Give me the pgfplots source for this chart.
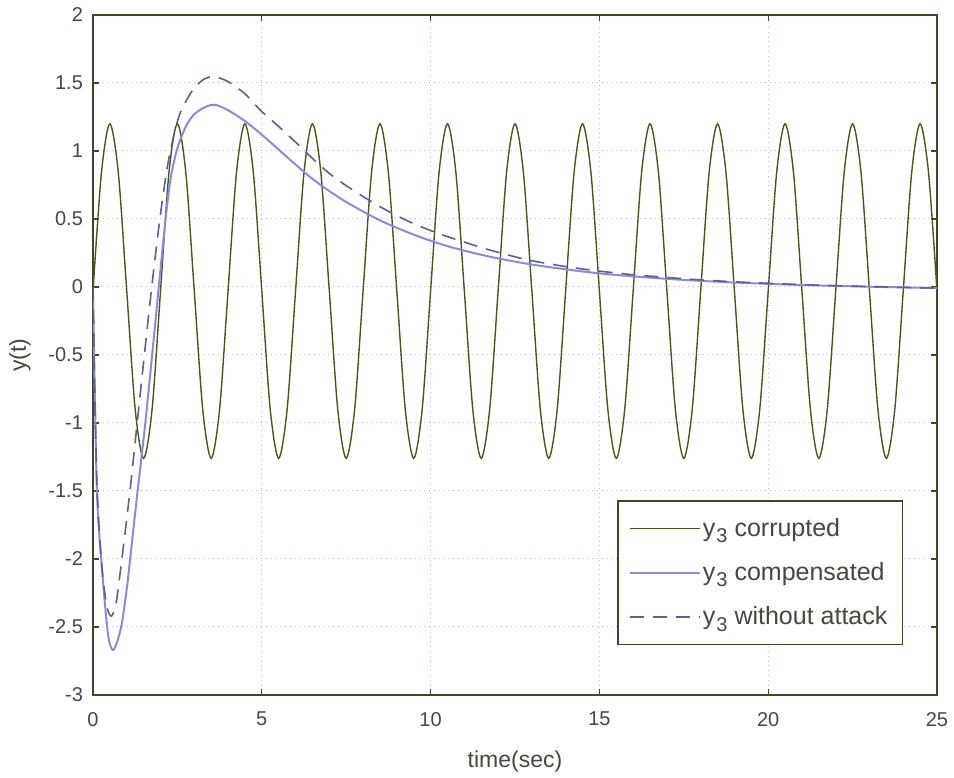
\documentclass[border=0pt]{standalone}
\usepackage{pgfplots}
\pgfplotsset{compat=1.18}
\usepackage{fontspec}
\setmainfont{Liberation Sans}
\definecolor{axcol}{RGB}{62,72,40}
\definecolor{gridcol}{RGB}{185,188,232}
\definecolor{corr}{RGB}{72,88,28}
\definecolor{comp}{RGB}{140,140,212}
\definecolor{noatt}{RGB}{95,95,145}
\definecolor{txt}{RGB}{70,72,60}
\newcommand{\ysub}{y\kern0.5pt\raisebox{-0.5ex}{\fontsize{10}{10}\selectfont 3}}
\begin{document}
\begin{tikzpicture}
\begin{axis}[
  scale only axis,
  width=422pt, height=340pt,
  xmin=0, xmax=25, ymin=-3, ymax=2,
  xtick={0,5,10,15,20,25},
  ytick={-3,-2.5,-2,-1.5,-1,-0.5,0,0.5,1,1.5,2},
  /pgf/number format/assume math mode=true,
  tick label style={font=\fontsize{10}{12}\selectfont, text=txt},
  yticklabel style={xshift=-1.5pt},
  xticklabel style={yshift=-5pt},
  tick align=inside,
  major tick length=3pt,
  tick style={axcol, line width=0.6pt},
  axis line style={axcol, line width=0.7pt},
  grid=major,
  major grid style={gridcol, dotted, line width=0.5pt},
  xlabel={time(sec)},
  ylabel={y(t)},
  label style={font=\fontsize{11.5}{13}\selectfont, text=txt},
  xlabel style={yshift=-5.5pt},
  ylabel style={yshift=2pt},
  legend cell align=left,
  legend style={at={(0.9597,0.0735)}, anchor=south east, draw=axcol, line width=0.6pt,
    font=\fontsize{12.5}{15}\selectfont, text=txt, inner xsep=5.5pt, inner ysep=6.5pt,
    row sep=7.5pt, /tikz/every odd column/.append style={column sep=-1pt}},
  legend image code/.code={\draw[#1] (0pt,0pt) -- (35pt,0pt);},
]
\coordinate (bl) at (rel axis cs:0,0);
\coordinate (tr) at (rel axis cs:1,1);
\addplot[corr, line width=0.7pt, smooth] coordinates {
(0,-0.03)(0.25,0.84)(0.5,1.20)(0.75,0.84)(1,-0.03)(1.25,-0.90)(1.5,-1.26)(1.75,-0.90)
(2,-0.03)(2.25,0.84)(2.5,1.20)(2.75,0.84)(3,-0.03)(3.25,-0.90)(3.5,-1.26)(3.75,-0.90)
(4,-0.03)(4.25,0.84)(4.5,1.20)(4.75,0.84)(5,-0.03)(5.25,-0.90)(5.5,-1.26)(5.75,-0.90)
(6,-0.03)(6.25,0.84)(6.5,1.20)(6.75,0.84)(7,-0.03)(7.25,-0.90)(7.5,-1.26)(7.75,-0.90)
(8,-0.03)(8.25,0.84)(8.5,1.20)(8.75,0.84)(9,-0.03)(9.25,-0.90)(9.5,-1.26)(9.75,-0.90)
(10,-0.03)(10.25,0.84)(10.5,1.20)(10.75,0.84)(11,-0.03)(11.25,-0.90)(11.5,-1.26)(11.75,-0.90)
(12,-0.03)(12.25,0.84)(12.5,1.20)(12.75,0.84)(13,-0.03)(13.25,-0.90)(13.5,-1.26)(13.75,-0.90)
(14,-0.03)(14.25,0.84)(14.5,1.20)(14.75,0.84)(15,-0.03)(15.25,-0.90)(15.5,-1.26)(15.75,-0.90)
(16,-0.03)(16.25,0.84)(16.5,1.20)(16.75,0.84)(17,-0.03)(17.25,-0.90)(17.5,-1.26)(17.75,-0.90)
(18,-0.03)(18.25,0.84)(18.5,1.20)(18.75,0.84)(19,-0.03)(19.25,-0.90)(19.5,-1.26)(19.75,-0.90)
(20,-0.03)(20.25,0.84)(20.5,1.20)(20.75,0.84)(21,-0.03)(21.25,-0.90)(21.5,-1.26)(21.75,-0.90)
(22,-0.03)(22.25,0.84)(22.5,1.20)(22.75,0.84)(23,-0.03)(23.25,-0.90)(23.5,-1.26)(23.75,-0.90)
(24,-0.03)(24.25,0.84)(24.5,1.20)(24.75,0.84)(25,-0.03)
};
\addlegendentry{\ysub\ corrupted}
\addplot[comp, line width=1pt, smooth] coordinates {
(0,0)(0.04,-0.6)(0.11,-1.45)(0.18,-1.8)(0.26,-2.05)(0.36,-2.35)(0.46,-2.58)(0.58,-2.67)
(0.7,-2.62)(0.85,-2.48)(1.0,-2.22)(1.1,-2.0)(1.25,-1.66)(1.4,-1.33)(1.55,-1.0)(1.7,-0.63)
(1.85,-0.25)(2.0,0.13)(2.15,0.5)(2.3,0.8)(2.5,1.02)(2.75,1.18)(3.0,1.27)(3.3,1.32)(3.6,1.34)
(4.0,1.30)(4.5,1.22)(5.0,1.12)(5.5,1.01)(6,0.90)(6.5,0.795)(7,0.705)(7.5,0.625)(8,0.555)
(8.5,0.49)(9,0.435)(9.5,0.385)(10,0.34)(10.5,0.30)(11,0.267)(11.5,0.237)(12,0.21)
(13,0.165)(14,0.13)(15,0.10)(16,0.078)(17,0.06)(18,0.045)(19,0.033)(20,0.023)
(21,0.015)(22,0.008)(23,0.002)(24,-0.003)(25,-0.008)
};
\addlegendentry{\ysub\ compensated}
\addplot[noatt, line width=0.8pt, dash pattern=on 7pt off 4.5pt, smooth] coordinates {
(0,0)(0.04,-0.6)(0.11,-1.4)(0.2,-1.85)(0.3,-2.15)(0.42,-2.36)(0.55,-2.42)(0.68,-2.33)
(0.78,-2.15)(0.9,-1.91)(1.1,-1.49)(1.3,-1.02)(1.5,-0.55)(1.74,0.0)(1.98,0.5)(2.2,0.88)
(2.4,1.12)(2.6,1.29)(2.96,1.45)(3.3,1.53)(3.6,1.546)(4,1.51)(4.5,1.42)(5,1.29)(5.5,1.18)
(6,1.065)(6.5,0.945)(7,0.835)(7.5,0.745)(8,0.665)(8.5,0.59)(9,0.525)(9.5,0.465)(10,0.415)
(10.5,0.37)(11,0.33)(11.5,0.29)(12,0.255)(12.5,0.222)(13,0.193)(14,0.15)(15,0.117)
(16,0.09)(17,0.07)(18,0.052)(19,0.038)(20,0.027)(21,0.017)(22,0.009)(23,0.003)
(24,-0.003)(25,-0.008)
};
\addlegendentry{\ysub\ without attack}
\end{axis}
\pgfresetboundingbox
\path ([shift={(-46.5pt,-41.5pt)}]bl) rectangle ([shift={(8.5pt,7.5pt)}]tr);
\end{tikzpicture}
\end{document}
